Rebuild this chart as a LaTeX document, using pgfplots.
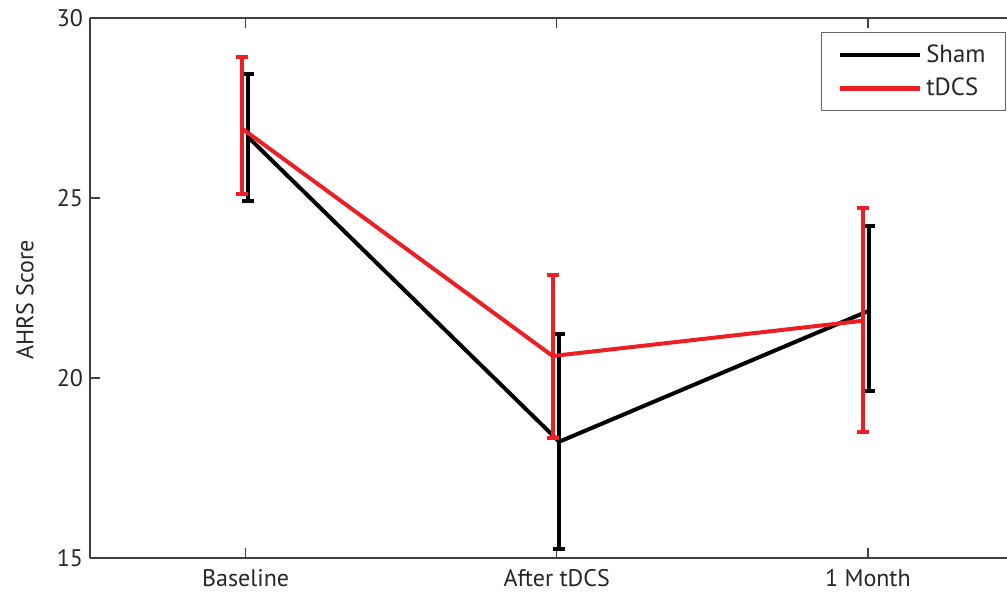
\documentclass[border=0pt]{standalone}
\usepackage{pgfplots}
\pgfplotsset{compat=1.18}
\usepackage{fontspec}
\setmainfont{PT Sans}
\definecolor{myred}{RGB}{236,32,36}
\begin{document}
\begin{tikzpicture}
\begin{axis}[
  scale only axis,
  width=458.5pt, height=270pt,
  xmin=0.5, xmax=3.447, ymin=15, ymax=30,
  separate axis lines,
  axis x line*=box, axis y line*=left,
  axis line style={line width=0.7pt, black!75},
  tick style={line width=0.6pt, black!75},
  tick align=inside,
  major tick length=5pt,
  xtick={1,2,3},
  xticklabels={Baseline, After tDCS, 1 Month},
  xtick pos=both,
  ytick={15,20,25,30},
  ytick pos=left,
  /pgf/number format/assume math mode=true,
  ticklabel style={font=\fontsize{12pt}{14pt}\selectfont, text=black!85},
  xticklabel style={yshift=-2pt},
  ylabel={AHRS Score},
  ylabel style={at={(axis description cs:-0.071,0.478)}, anchor=center, rotate=0, font=\fontsize{12pt}{14pt}\selectfont, text=black!85},
  legend style={at={(axis description cs:0.9989,0.974)}, anchor=north east,
    draw=black!60, line width=0.5pt, font=\fontsize{12.4pt}{14pt}\selectfont,
    inner xsep=8pt, inner ysep=4pt, row sep=2.5pt, text=black!85},
  legend cell align=left,
  legend image code/.code={\draw[#1, line width=2.2pt] (0pt,0pt) -- (40pt,0pt);},
]
\addplot[black, line width=2pt, mark=none,
  error bars/.cd, y dir=both, y explicit,
  error bar style={line width=2pt, black},
  error mark options={rotate=90, black, line width=2pt, mark size=3pt}]
  coordinates {
  (1.007,26.70) += (0,1.74) -= (0,1.77)
  (2.008,18.23) += (0,2.99) -= (0,2.99)
  (3.004,21.87) += (0,2.35) -= (0,2.23)
  };
\addlegendentry{Sham}
\addplot[myred, line width=2pt, mark=none,
  error bars/.cd, y dir=both, y explicit,
  error bar style={line width=2pt, myred},
  error mark options={rotate=90, myred, line width=2pt, mark size=3pt}]
  coordinates {
  (0.987,26.94) += (0,1.97) -= (0,1.84)
  (1.987,20.61) += (0,2.25) -= (0,2.27)
  (2.984,21.59) += (0,3.12) -= (0,3.08)
  };
\addlegendentry{tDCS}
\end{axis}
\pgfresetboundingbox
\path ([xshift=-45pt, yshift=-20.5pt]current axis.south west) rectangle ([yshift=9pt]current axis.north east);
\end{tikzpicture}
\end{document}
